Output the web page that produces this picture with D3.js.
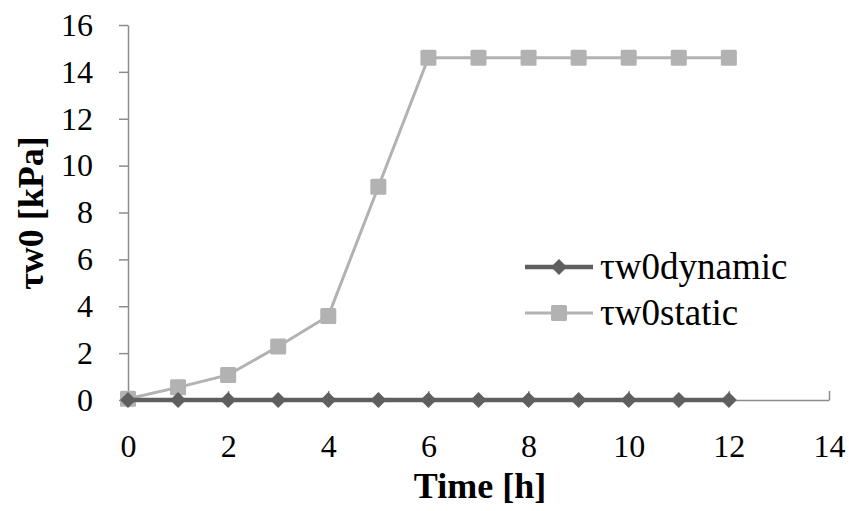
<!DOCTYPE html>
<html>
<head>
<meta charset="utf-8">
<script src="https://cdn.jsdelivr.net/npm/d3@7"></script>
</head>
<body style="margin:0; background:#fff">
<svg width="849" height="511"></svg>
<script>
const HOURS = [0, 1, 2, 3, 4, 5, 6, 7, 8, 9, 10, 11, 12];
const DYNAMIC = [0, 0, 0, 0, 0, 0, 0, 0, 0, 0, 0, 0, 0];
const STATIC = [0.05, 0.54, 1.07, 2.28, 3.58, 9.1, 14.6, 14.6, 14.6, 14.6, 14.6, 14.6, 14.6];
const X_TICKS = [0, 2, 4, 6, 8, 10, 12, 14];
const Y_TICKS = [0, 2, 4, 6, 8, 10, 12, 14, 16];
const SERIES = [
    { name: 'τw0dynamic', values: DYNAMIC, color: '#5f5f5f', width: 4.5, marker: 'diamond' },
    { name: 'τw0static', values: STATIC, color: '#b2b2b2', width: 3, marker: 'square' }
];

const FONT = '"Liberation Serif"';
const TICK_FS = 32;

const svg = d3.select('svg');

const xScale = d3.scaleLinear().domain([0, 14]).range([128, 829]);
const yScale = d3.scaleLinear().domain([0, 16]).range([400, 25]);

// axes
const xAxis = svg.append('g')
    .attr('transform', `translate(0, ${yScale(0)})`)
    .call(d3.axisBottom(xScale).tickValues(X_TICKS).tickSizeInner(-9).tickSizeOuter(0).tickPadding(34));
xAxis.select('.domain').attr('stroke', '#8c8c8c').attr('stroke-width', 1.5);
xAxis.selectAll('.tick line').attr('stroke', '#8c8c8c').attr('stroke-width', 1.5);
xAxis.selectAll('.tick text')
    .style('font-family', FONT).attr('font-size', TICK_FS).attr('fill', '#000');

const yAxis = svg.append('g')
    .attr('transform', `translate(${xScale(0)}, 0)`)
    .call(d3.axisLeft(yScale).tickValues(Y_TICKS).tickSizeInner(9).tickSizeOuter(0).tickPadding(26));
yAxis.select('.domain').attr('stroke', '#8c8c8c').attr('stroke-width', 1.5);
yAxis.selectAll('.tick line').attr('stroke', '#8c8c8c').attr('stroke-width', 1.5);
yAxis.selectAll('.tick text')
    .style('font-family', FONT).attr('font-size', TICK_FS).attr('fill', '#000');

// titles
svg.append('text')
    .attr('x', 480).attr('y', 498)
    .attr('text-anchor', 'middle')
    .style('font-family', FONT).attr('font-size', 36).attr('font-weight', 'bold')
    .text('Time [h]');

svg.append('text')
    .attr('transform', 'translate(43, 213) rotate(-90)')
    .attr('text-anchor', 'middle')
    .style('font-family', FONT).attr('font-size', 36).attr('font-weight', 'bold')
    .text('τw0 [kPa]');

function drawMarker(g, type, color) {
    if (type === 'diamond') {
        g.append('path').attr('d', 'M0,-8L8,0L0,8L-8,0Z').attr('fill', color);
    } else {
        g.append('rect').attr('x', -8).attr('y', -8).attr('width', 16).attr('height', 16)
            .attr('rx', 1.5).attr('fill', color);
    }
}

const line = d3.line().x((d, i) => xScale(HOURS[i])).y(d => yScale(d));

// static first, dynamic on top
[SERIES[1], SERIES[0]].forEach(s => {
    svg.append('path')
        .datum(s.values)
        .attr('fill', 'none')
        .attr('stroke', s.color)
        .attr('stroke-width', s.width)
        .attr('d', line);

    svg.selectAll(null)
        .data(s.values)
        .enter()
        .append('g')
        .attr('transform', (d, i) => `translate(${xScale(HOURS[i])}, ${yScale(d)})`)
        .each(function () { drawMarker(d3.select(this), s.marker, s.color); });
});

// legend
const legend = svg.append('g').attr('transform', 'translate(525, 267)');
SERIES.forEach((s, i) => {
    const row = legend.append('g').attr('transform', `translate(0, ${i * 46})`);
    row.append('line').attr('x1', 0).attr('x2', 68).attr('y1', 0).attr('y2', 0)
        .attr('stroke', s.color).attr('stroke-width', s.width);
    drawMarker(row.append('g').attr('transform', 'translate(34, 0)'), s.marker, s.color);
    row.append('text').attr('x', 75).attr('y', 12)
        .style('font-family', FONT).attr('font-size', 37).text(s.name);
});
</script>
</body>
</html>
